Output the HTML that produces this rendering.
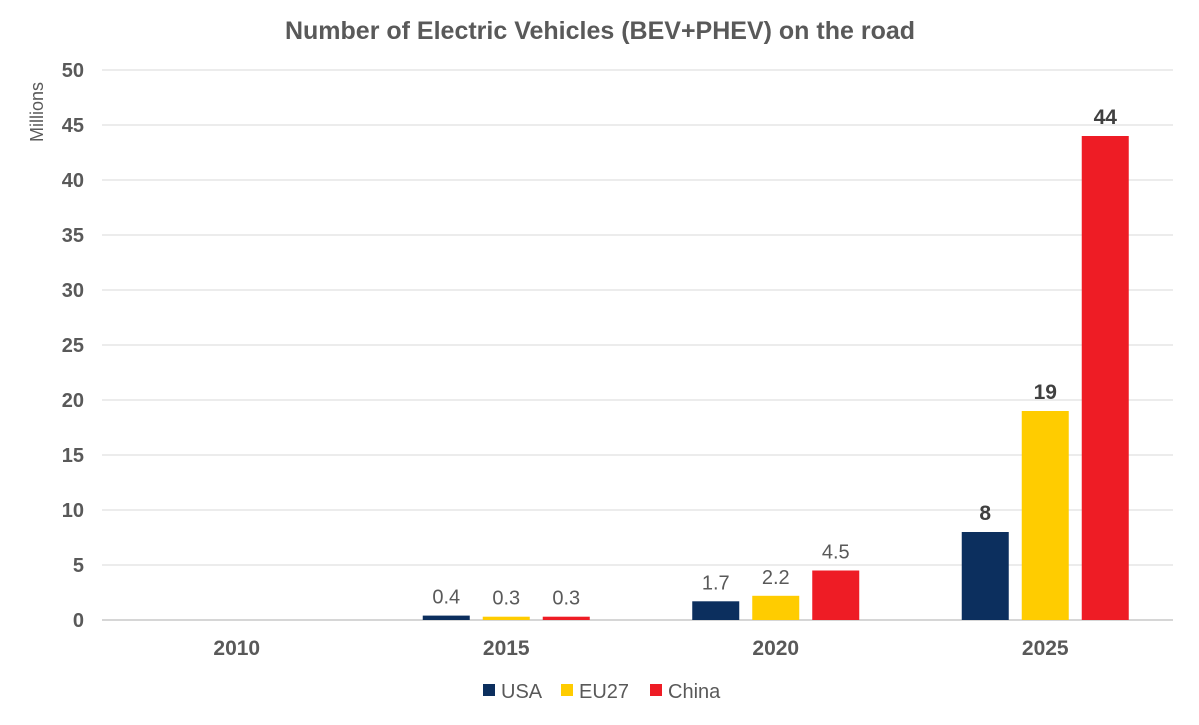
<!DOCTYPE html>
<html><head><meta charset="utf-8"><style>
body{margin:0;background:#fff;font-family:"Liberation Sans",sans-serif;}
svg text{font-family:"Liberation Sans",sans-serif;}
</style></head><body>
<svg id="chart" width="1199" height="720" xmlns="http://www.w3.org/2000/svg">
<text x="600" y="39" text-anchor="middle" font-size="25" font-weight="bold" fill="#595959">Number of Electric Vehicles (BEV+PHEV) on the road</text>
<text transform="translate(43,112) rotate(-90)" text-anchor="middle" font-size="18" fill="#595959">Millions</text>
<g id="grid"></g><g id="bars"></g><g id="labels"></g>
<g>
<rect x="483" y="684" width="12" height="12" fill="#0c2f5e"/>
<text x="501" y="698" font-size="20" fill="#595959">USA</text>
<rect x="561" y="684" width="12" height="12" fill="#ffcc00"/>
<text x="579" y="698" font-size="20" fill="#595959">EU27</text>
<rect x="650" y="684" width="12" height="12" fill="#ee1c25"/>
<text x="668" y="698" font-size="20" fill="#595959">China</text>
</g>
</svg>
<script>
const categories=["2010","2015","2020","2025"];
const usa=[null,0.4,1.7,8];
const eu27=[null,0.3,2.2,19];
const china=[null,0.3,4.5,44];
const yTicks=[0,5,10,15,20,25,30,35,40,45,50];
const usaLabels=["","0.4","1.7","8"];
const euLabels=["","0.3","2.2","19"];
const chinaLabels=["","0.3","4.5","44"];
const NS="http://www.w3.org/2000/svg";
const x0=102,x1=1173,y0=620,yTop=70;
const y=v=>y0-(v/50)*(y0-yTop);
const bandW=269.5;
const cx=i=>x0+bandW*(i+0.5);
function mk(t,a,p){const e=document.createElementNS(NS,t);for(const k in a)e.setAttribute(k,a[k]);p.appendChild(e);return e;}
const grid=document.getElementById('grid'),bars=document.getElementById('bars'),labels=document.getElementById('labels');
yTicks.forEach(t=>{
 const l=mk('line',{x1:x0,x2:x1,y1:y(t),y2:y(t),stroke:t===0?'#c8c8c8':'#d9d9d9','stroke-width':t===0?1.5:1},grid);
 
 
 const tx=mk('text',{x:84,y:y(t)+7,'text-anchor':'end','font-size':20,'font-weight':'bold',fill:'#595959'},grid);
 tx.textContent=t;
 
 
});
categories.forEach((c,i)=>{
 const tx=mk('text',{x:cx(i),y:655,'text-anchor':'middle','font-size':21,'font-weight':'bold',fill:'#595959'},grid);
 tx.textContent=c;
 
 
});
const series=[[usa,usaLabels,'#0c2f5e','usa'],[eu27,euLabels,'#ffcc00','eu27'],[china,chinaLabels,'#ee1c25','china']];
const bw=47,step=60;
series.forEach((s,si)=>{
 s[0].forEach((v,i)=>{
  if(v==null)return;
  const bx=cx(i)+(si-1)*step-bw/2;
  const r=mk('rect',{x:bx,y:y(v),width:bw,height:y0-y(v),fill:s[2]},bars);
  
  
  const big=v>=8;
  const t=mk('text',{x:bx+bw/2,y:y(v)-12,'text-anchor':'middle','font-size':big?21:20,'font-weight':big?'bold':'normal',fill:big?'#404040':'#595959'},labels);
  t.textContent=s[1][i];
  
  
 });
});
</script>
</body></html>
